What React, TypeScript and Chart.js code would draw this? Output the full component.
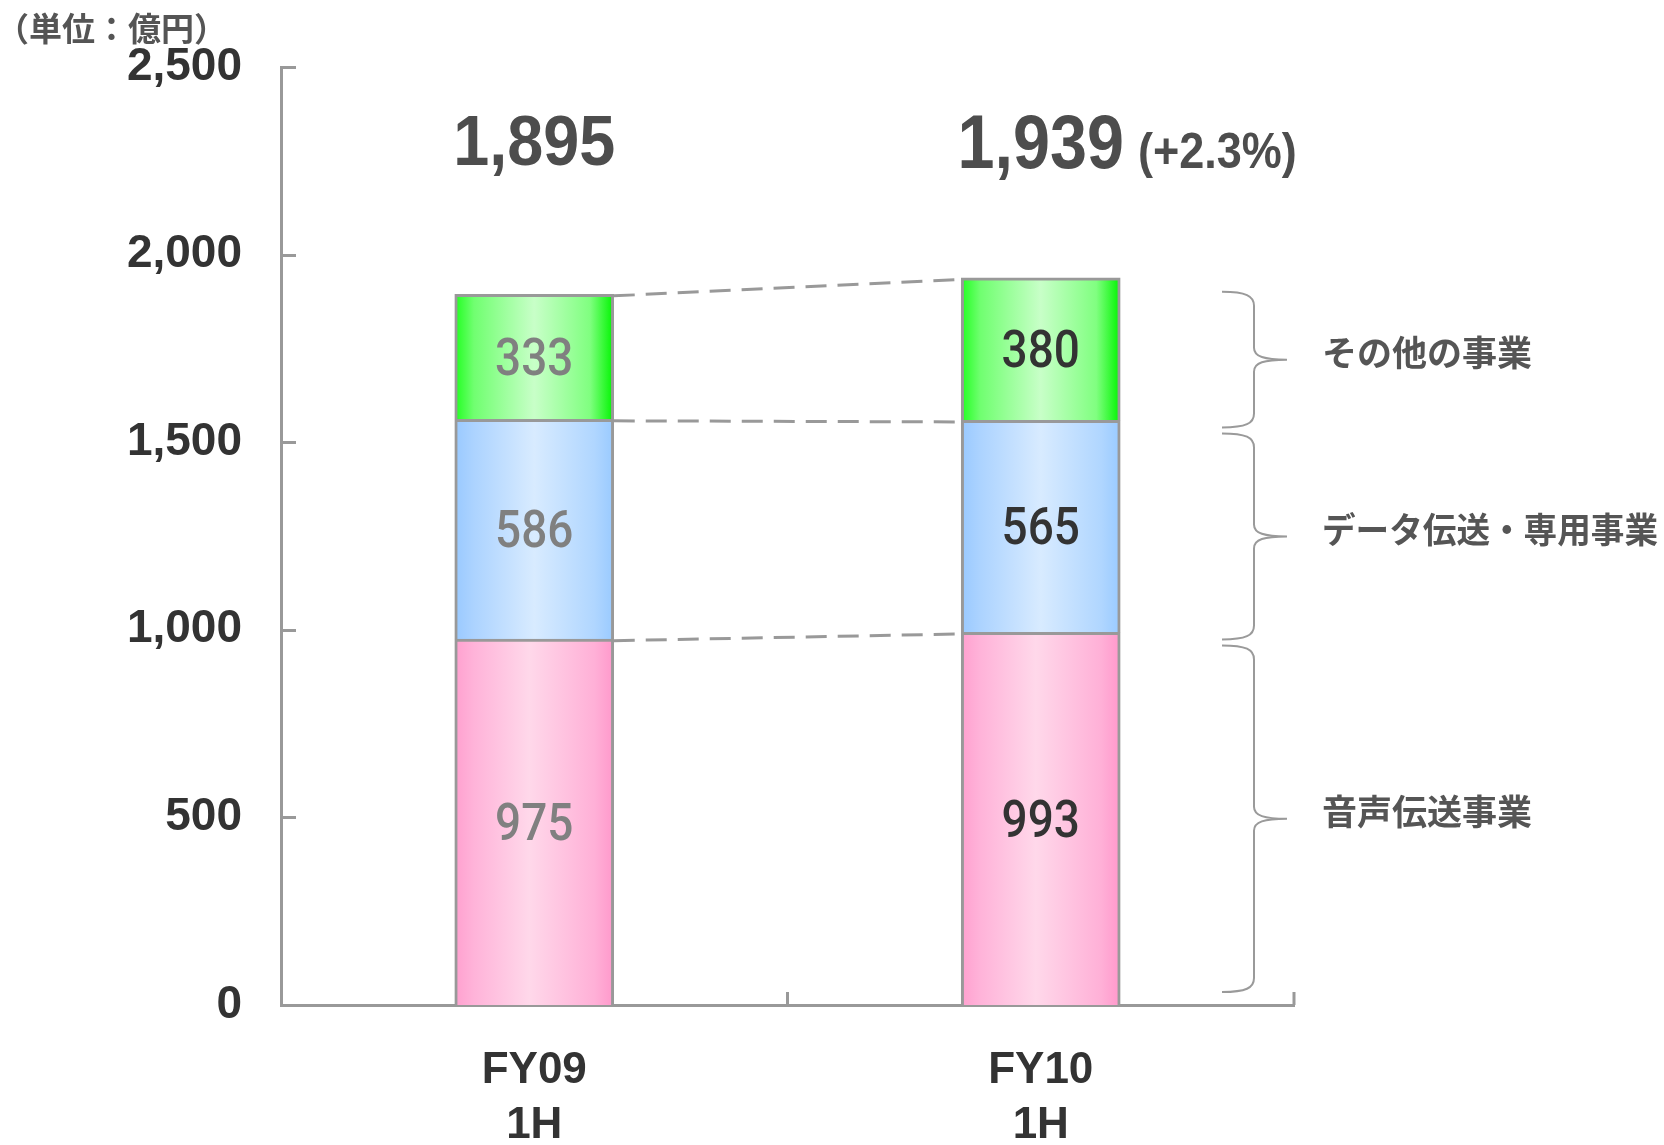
import React, { useEffect, useRef } from "react";
import { Chart, registerables } from "chart.js";
Chart.register(...registerables);

// ---------- data ----------
const categories: string[][] = [["FY09", "1H"], ["FY10", "1H"]];
const segmentNames = ["音声伝送事業", "データ伝送・専用事業", "その他の事業"];
const voiceValues = [975, 993];
const dataLineValues = [586, 565];
const otherValues = [333, 380];
const totals = [1895, 1939];
const growthLabels = ["", "(+2.3%)"];
const yTickValues = [0, 500, 1000, 1500, 2000, 2500];
const unitLabel = "（単位：億円）";

// ---------- styles ----------
const W = 1664;
const H = 1145;
const AXIS = "#999999";
const LATIN = "'Liberation Sans', Arial, sans-serif";
const CJK = "'Noto Sans CJK JP', sans-serif";
const valueLabelColors = ["#808080", "#333333"];
const titleSizes = [70, 76];
const titleScale = [0.925, 0.875];
const gradientStops: [number, string][][] = [
  [[0, "#ffa0cf"], [0.12, "#ffb3d9"], [0.47, "#ffd8ea"], [0.88, "#ffb0d7"], [1, "#ff98cb"]],
  [[0, "#99c9ff"], [0.12, "#acd3ff"], [0.5, "#d8ebff"], [0.88, "#b0d6ff"], [1, "#99caff"]],
  [[0, "#20ff20"], [0.12, "#70ff70"], [0.5, "#c8ffc8"], [0.85, "#80ff80"], [1, "#00f500"]],
];
const BAR_W = 159;

function gradientFor(stops: [number, string][]) {
  return (c: any) => {
    const chart = c.chart;
    const xs = chart.scales && chart.scales.x;
    if (!xs || c.dataIndex === undefined || !chart.chartArea) return stops[2][1];
    const cx = xs.getPixelForValue(c.dataIndex);
    const g = chart.ctx.createLinearGradient(cx - BAR_W / 2, 0, cx + BAR_W / 2, 0);
    stops.forEach(([o, col]) => g.addColorStop(o, col));
    return g;
  };
}

function drawText(
  ctx: CanvasRenderingContext2D,
  text: string,
  x: number,
  y: number,
  font: string,
  color: string,
  align: CanvasTextAlign,
  baseline: CanvasTextBaseline,
  scaleX = 1
) {
  ctx.save();
  ctx.font = font;
  ctx.fillStyle = color;
  ctx.textAlign = align;
  ctx.textBaseline = baseline;
  ctx.translate(x, y);
  ctx.scale(scaleX, 1);
  ctx.fillText(text, 0, 0);
  ctx.restore();
}

const overlay = {
  id: "overlay",
  afterDraw(chart: any) {
    const ctx: CanvasRenderingContext2D = chart.ctx;
    const { left, right, bottom } = chart.chartArea;
    const xs = chart.scales.x;
    const ys = chart.scales.y;

    // inward tick marks
    ctx.save();
    ctx.strokeStyle = AXIS;
    ctx.lineWidth = 3;
    ys.ticks.forEach((t: any) => {
      if (t.value === 0) return;
      const py = Math.round(ys.getPixelForValue(t.value)) + 0.5;
      ctx.beginPath();
      ctx.moveTo(left, py);
      ctx.lineTo(left + 15, py);
      ctx.stroke();
    });
    for (let i = 0; i < categories.length; i++) {
      const px =
        i === categories.length - 1
          ? right
          : (xs.getPixelForValue(i) + xs.getPixelForValue(i + 1)) / 2;
      ctx.beginPath();
      ctx.moveTo(px, bottom);
      ctx.lineTo(px, bottom - 13);
      ctx.stroke();
    }
    ctx.restore();

    // dashed connectors
    ctx.save();
    ctx.strokeStyle = AXIS;
    ctx.lineWidth = 3;
    ctx.setLineDash([21, 11]);
    for (let d = 0; d < 3; d++) {
      const meta = chart.getDatasetMeta(d);
      const a = meta.data[0];
      const b = meta.data[1];
      ctx.beginPath();
      ctx.moveTo(a.x + a.width / 2, a.y + 1.5);
      ctx.lineTo(b.x - b.width / 2, b.y + 1.5);
      ctx.stroke();
    }
    ctx.restore();

    // value labels inside bars
    for (let d = 0; d < 3; d++) {
      const meta = chart.getDatasetMeta(d);
      const values = chart.data.datasets[d].data as number[];
      meta.data.forEach((el: any, i: number) => {
        const cy = (el.y + el.base) / 2;
        drawText(ctx, String(values[i]), el.x, cy + 18, `500 51px Roboto, ${LATIN}`, valueLabelColors[i], "center", "alphabetic", 0.9);
      });
    }

    // totals above bars
    const topMeta = chart.getDatasetMeta(0);
    topMeta.data.forEach((el: any, i: number) => {
      const txt = totals[i].toLocaleString("en-US");
      const size = titleSizes[i];
      const font = `700 ${size}px ${LATIN}`;
      const baseY = i === 0 ? 165 : 168;
      drawText(ctx, txt, el.x, baseY, font, "#4d4d4d", "center", "alphabetic", titleScale[i]);
      if (growthLabels[i]) {
        ctx.save();
        ctx.font = font;
        const w = ctx.measureText(txt).width * titleScale[i];
        ctx.restore();
        drawText(ctx, growthLabels[i], el.x + w / 2 + 14, baseY, `700 50px ${LATIN}`, "#4d4d4d", "left", "alphabetic", 0.9);
      }
    });

    // braces + segment names (aligned with last category's stack)
    const last = categories.length - 1;
    const segEls = [0, 1, 2].map((d) => chart.getDatasetMeta(d).data[last]);
    const bounds: number[] = [];
    bounds.push(ys.getPixelForValue(0) - 13);
    bounds.push(segEls[0].y + 10);
    bounds.push(segEls[1].y + 10);
    bounds.push(segEls[2].y + 14);
    const tipX = right - 72;
    const stemX = right - 40;
    const pointX = right - 7;
    ctx.save();
    ctx.strokeStyle = "#9a9a9a";
    ctx.lineWidth = 2;
    for (let s = 0; s < 3; s++) {
      const bot = s === 0 ? bounds[0] : bounds[s] - 3;
      const top = s === 2 ? bounds[3] : bounds[s + 1] + 3;
      const mid = (top + bot) / 2;
      ctx.beginPath();
      ctx.moveTo(tipX, top);
      ctx.bezierCurveTo(stemX - 8, top, stemX, top + 4, stemX, top + 14);
      ctx.lineTo(stemX, mid - 12);
      ctx.bezierCurveTo(stemX, mid - 3, stemX + 10, mid, pointX, mid);
      ctx.bezierCurveTo(stemX + 10, mid, stemX, mid + 3, stemX, mid + 12);
      ctx.lineTo(stemX, bot - 14);
      ctx.bezierCurveTo(stemX, bot - 4, stemX - 8, bot, tipX, bot);
      ctx.stroke();

      const lx = right + 28;
      const font = `700 35px ${CJK}`;
      ctx.font = font;
      const tw = ctx.measureText(segmentNames[s]).width;
      const sc = Math.min(1, (W - 6 - lx) / tw);
      drawText(ctx, segmentNames[s], lx, mid - 7, font, "#555555", "left", "middle", sc);
    }
    ctx.restore();

    // unit label
    drawText(ctx, unitLabel, -4, 28, `700 33px ${CJK}`, "#555555", "left", "middle", 1);
  },
};

export default function App() {
  const ref = useRef<HTMLCanvasElement | null>(null);
  useEffect(() => {
    if (!ref.current) return;
    const chart = new Chart(ref.current, {
      type: "bar",
      data: {
        labels: categories as any,
        datasets: [
          { label: segmentNames[0], data: voiceValues, backgroundColor: gradientFor(gradientStops[0]) as any },
          { label: segmentNames[1], data: dataLineValues, backgroundColor: gradientFor(gradientStops[1]) as any },
          { label: segmentNames[2], data: otherValues, backgroundColor: gradientFor(gradientStops[2]) as any },
        ],
      },
      options: {
        animation: false,
        responsive: false,
        maintainAspectRatio: false,
        devicePixelRatio: 1,
        datasets: {
          bar: {
            barThickness: BAR_W,
            borderColor: AXIS,
            borderWidth: 3,
            borderSkipped: "start",
          },
        },
        layout: { padding: { top: 67, right: 370, left: 0, bottom: 0 } },
        plugins: {
          legend: { display: false },
          tooltip: { enabled: false },
          title: { display: false },
        },
        scales: {
          x: {
            stacked: true,
            grid: { display: false, drawTicks: false },
            border: { display: true, color: AXIS, width: 3 },
            ticks: {
              color: "#333333",
              font: { family: LATIN, size: 44, weight: "bold", lineHeight: 1.25 },
              padding: 38,
              maxRotation: 0,
              autoSkip: false,
            },
            afterFit: (s: any) => {
              s.height = 140;
            },
          },
          y: {
            stacked: true,
            min: 0,
            max: 2500,
            afterBuildTicks: (s: any) => {
              s.ticks = yTickValues.map((v) => ({ value: v }));
            },
            grid: { display: false, drawTicks: false },
            border: { display: true, color: AXIS, width: 3 },
            ticks: {
              color: "#333333",
              font: { family: LATIN, size: 46, weight: "bold" },
              padding: 39,
              callback: (v: any) => Number(v).toLocaleString("en-US"),
            },
            afterFit: (s: any) => {
              s.width = 281;
            },
          },
        },
      } as any,
      plugins: [overlay],
    });
    return () => chart.destroy();
  }, []);
  return (
    <div style={{ position: "absolute", left: 0, top: 0, width: W, height: H, background: "#fff" }}>
      <canvas ref={ref} width={W} height={H} style={{ width: W, height: H, display: "block" }} />
    </div>
  );
}
